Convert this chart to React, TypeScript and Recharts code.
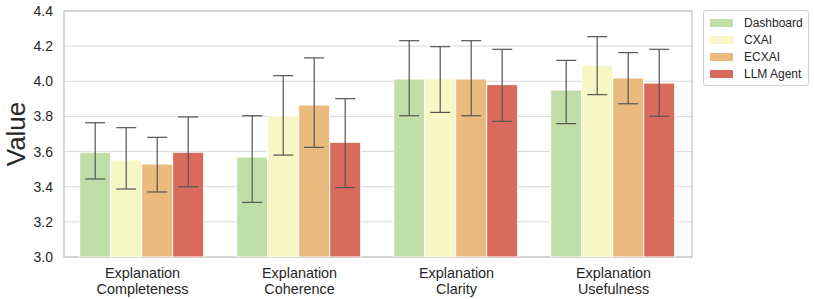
import {
  Bar,
  BarChart,
  CartesianGrid,
  ErrorBar,
  ReferenceArea,
  XAxis,
  YAxis,
} from "recharts";

const categories = [
  "Explanation Completeness",
  "Explanation Coherence",
  "Explanation Clarity",
  "Explanation Usefulness",
];

const seriesNames = ["Dashboard", "CXAI", "ECXAI", "LLM Agent"];
const seriesColors = ["#c0dea7", "#f7f7c6", "#ebba7f", "#d86b5b"];

// mean values per series, one per category
const dashboard = [3.596, 3.569, 4.013, 3.95];
const cxai = [3.552, 3.803, 4.013, 4.089];
const ecxai = [3.529, 3.865, 4.013, 4.019];
const llmAgent = [3.596, 3.653, 3.981, 3.99];

// confidence interval bounds
const dashboardLow = [3.444, 3.311, 3.804, 3.759];
const dashboardHigh = [3.764, 3.804, 4.231, 4.119];
const cxaiLow = [3.387, 3.58, 3.823, 3.924];
const cxaiHigh = [3.736, 4.032, 4.197, 4.254];
const ecxaiLow = [3.37, 3.624, 3.804, 3.872];
const ecxaiHigh = [3.681, 4.133, 4.231, 4.163];
const llmLow = [3.4, 3.395, 3.772, 3.801];
const llmHigh = [3.797, 3.901, 4.182, 4.182];

const yTicks = [3.0, 3.2, 3.4, 3.6, 3.8, 4.0, 4.2, 4.4];

const values = [dashboard, cxai, ecxai, llmAgent];
const lows = [dashboardLow, cxaiLow, ecxaiLow, llmLow];
const highs = [dashboardHigh, cxaiHigh, ecxaiHigh, llmHigh];

const data = categories.map((name, i) => {
  const row: Record<string, any> = { name };
  seriesNames.forEach((s, k) => {
    const v = values[k][i];
    row[s] = v;
    row[s + "_err"] = [v - lows[k][i], highs[k][i] - v];
  });
  return row;
});

const FONT = '"Liberation Sans", Arial, sans-serif';

function CategoryTick({ x, y, payload }: any) {
  const text: string = payload.value;
  const idx = text.indexOf(" ");
  const lines = idx > 0 ? [text.slice(0, idx), text.slice(idx + 1)] : [text];
  return (
    <text
      x={x}
      y={y}
      textAnchor="middle"
      fill="#262626"
      fontSize={14.4}
      fontFamily={FONT}
    >
      {lines.map((l, i) => (
        <tspan key={i} x={x} dy={i === 0 ? 13 : 16}>
          {l}
        </tspan>
      ))}
    </text>
  );
}

function ValueLabel({ viewBox }: any) {
  const cy = viewBox.y + viewBox.height / 2;
  return (
    <text
      x={16}
      y={cy}
      transform={`rotate(-90, 16, ${cy})`}
      textAnchor="middle"
      dominantBaseline="central"
      fill="#262626"
      fontSize={26}
      fontFamily={FONT}
    >
      Value
    </text>
  );
}

function LegendBox() {
  return (
    <div
      style={{
        position: "absolute",
        left: 703,
        top: 10,
        border: "1px solid #d0d0d0",
        borderRadius: 3,
        background: "#fff",
        width: 104,
        padding: "3px 0 3px 0",
        fontFamily: FONT,
        fontSize: 12,
        color: "#262626",
      }}
    >
      {seriesNames.map((s, i) => (
        <div
          key={s}
          style={{ display: "flex", alignItems: "center", height: 17, paddingLeft: 6 }}
        >
          <span
            style={{
              display: "inline-block",
              width: 23,
              height: 8,
              background: seriesColors[i],
              marginRight: 11,
            }}
          />
          <span>{s}</span>
        </div>
      ))}
    </div>
  );
}

export default function App() {
  return (
    <div style={{ position: "relative", width: 814, height: 299, background: "#fff" }}>
      <style>{`body{margin:0}`}</style>
      <BarChart
        width={814}
        height={299}
        data={data}
        margin={{ top: 11, right: 122, bottom: 0, left: 0 }}
        barCategoryGap="10%"
        barGap={0}
      >
        <CartesianGrid vertical={false} stroke="#d9d9d9" strokeWidth={1} />
        <XAxis
          dataKey="name"
          axisLine={false}
          tickLine={false}
          tick={<CategoryTick />}
          interval={0}
          height={42}
        />
        <YAxis
          domain={[3.0, 4.4]}
          ticks={yTicks}
          tickFormatter={(v: number) => v.toFixed(1)}
          axisLine={false}
          tickLine={false}
          tickSize={6}
          tickMargin={5}
          width={64}
          allowDataOverflow
          tick={{ fill: "#262626", fontSize: 14, fontFamily: FONT }}
          label={<ValueLabel />}
        />
        {seriesNames.map((s, i) => (
          <Bar
            key={s}
            dataKey={s}
            fill={seriesColors[i]}
            stroke="#ffffff"
            strokeWidth={1}
            isAnimationActive={false}
          >
            <ErrorBar
              dataKey={s + "_err"}
              width={10}
              stroke="#555555"
              strokeWidth={1.2}
              direction="y"
            />
          </Bar>
        ))}
        <ReferenceArea
          y1={3.0}
          y2={4.4}
          fill="none"
          stroke="#cccccc"
          strokeWidth={1.5}
          ifOverflow="visible"
        />
      </BarChart>
      <LegendBox />
    </div>
  );
}
